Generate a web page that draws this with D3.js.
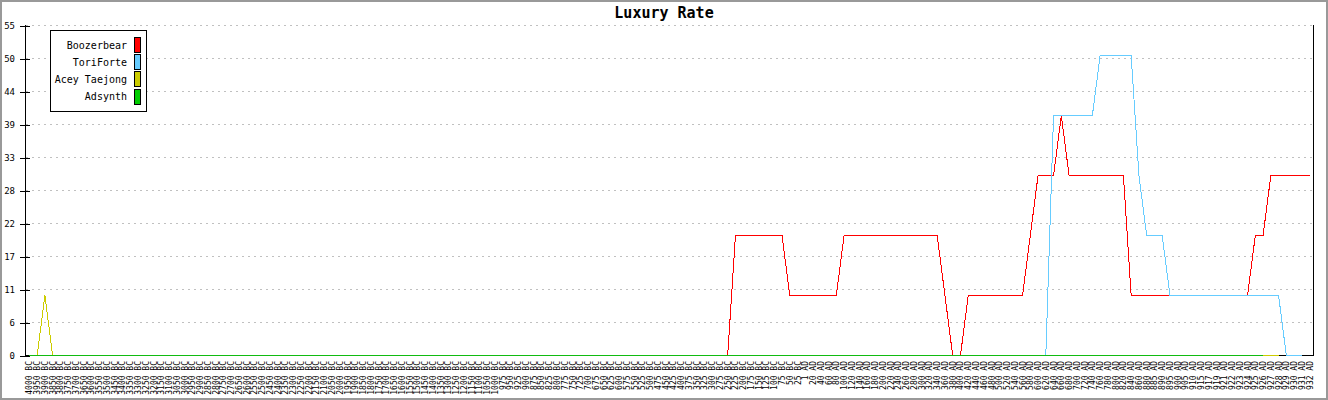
<!DOCTYPE html>
<html>
<head>
<meta charset="utf-8">
<script src="https://cdn.jsdelivr.net/npm/d3@7"></script>
<style>
html,body{margin:0;padding:0;background:#fff;}
svg{display:block;}
text{font-family:"DejaVu Sans Mono",monospace;}
</style>
</head>
<body>
<svg id="chart" width="1328" height="400"></svg>
<script>
const title = "Luxury Rate";
const categories = [
"4000 BC","3950 BC","3900 BC","3850 BC","3800 BC","3750 BC","3700 BC","3650 BC","3600 BC","3550 BC",
"3500 BC","3450 BC","3400 BC","3350 BC","3300 BC","3250 BC","3200 BC","3150 BC","3100 BC","3050 BC",
"3000 BC","2950 BC","2900 BC","2850 BC","2800 BC","2750 BC","2700 BC","2650 BC","2600 BC","2550 BC",
"2500 BC","2450 BC","2400 BC","2350 BC","2300 BC","2250 BC","2200 BC","2150 BC","2100 BC","2050 BC",
"2000 BC","1950 BC","1900 BC","1850 BC","1800 BC","1750 BC","1700 BC","1650 BC","1600 BC","1550 BC",
"1500 BC","1450 BC","1400 BC","1350 BC","1300 BC","1250 BC","1200 BC","1150 BC","1100 BC","1050 BC",
"1000 BC","975 BC","950 BC","925 BC","900 BC","875 BC","850 BC","825 BC","800 BC","775 BC",
"750 BC","725 BC","700 BC","675 BC","650 BC","625 BC","600 BC","575 BC","550 BC","525 BC",
"500 BC","475 BC","450 BC","425 BC","400 BC","375 BC","350 BC","325 BC","300 BC","275 BC",
"250 BC","225 BC","200 BC","175 BC","150 BC","125 BC","100 BC","75 BC","50 BC","25 BC",
"1 AD","20 AD","40 AD","60 AD","80 AD","100 AD","120 AD","140 AD","160 AD","180 AD",
"200 AD","220 AD","240 AD","260 AD","280 AD","300 AD","320 AD","340 AD","360 AD","380 AD",
"400 AD","420 AD","440 AD","460 AD","480 AD","500 AD","520 AD","540 AD","560 AD","580 AD",
"600 AD","620 AD","640 AD","660 AD","680 AD","700 AD","720 AD","740 AD","760 AD","780 AD",
"800 AD","820 AD","840 AD","860 AD","880 AD","885 AD","890 AD","895 AD","900 AD","905 AD",
"910 AD","915 AD","917 AD","919 AD","921 AD","922 AD","923 AD","924 AD","925 AD","926 AD",
"927 AD","928 AD","929 AD","930 AD","931 AD","932 AD"
];
const seriesNames = ["Boozerbear","ToriForte","Acey Taejong","Adsynth"];
const seriesColors = ["#ff0000","#66ccff","#cccc00","#11bb11"];
const swatchColors = ["#ff0000","#66ccff","#cccc00","#00cc00"];
const boozerbear = [
0,0,0,0,0,0,0,0,0,0, 0,0,0,0,0,0,0,0,0,0, 0,0,0,0,0,0,0,0,0,0,
0,0,0,0,0,0,0,0,0,0, 0,0,0,0,0,0,0,0,0,0, 0,0,0,0,0,0,0,0,0,0,
0,0,0,0,0,0,0,0,0,0, 0,0,0,0,0,0,0,0,0,0, 0,0,0,0,0,0,0,0,0,0,
0,20,20,20,20,20,20,20,10,10,
10,10,10,10,10,20,20,20,20,20,
20,20,20,20,20,20,20,20,10,0,
0,10,10,10,10,10,10,10,10,20,
30,30,30,40,30,30,30,30,30,30,
30,30,10,10,10,10,10,10,10,10,
10,10,10,10,10,10,10,10,20,20,
30,30,30,30,30,30
];
const toriForte = [
0,0,0,0,0,0,0,0,0,0, 0,0,0,0,0,0,0,0,0,0, 0,0,0,0,0,0,0,0,0,0,
0,0,0,0,0,0,0,0,0,0, 0,0,0,0,0,0,0,0,0,0, 0,0,0,0,0,0,0,0,0,0,
0,0,0,0,0,0,0,0,0,0, 0,0,0,0,0,0,0,0,0,0, 0,0,0,0,0,0,0,0,0,0,
0,0,0,0,0,0,0,0,0,0, 0,0,0,0,0,0,0,0,0,0, 0,0,0,0,0,0,0,0,0,0,
0,0,0,0,0,0,0,0,0,0,
0,0,40,40,40,40,40,40,50,50,
50,50,50,30,20,20,20,10,10,10,
10,10,10,10,10,10,10,10,10,10,
10,10,0,0,0,null
];
const aceyTaejong = [
0,0,10,0,0,0,0,0,0,0, 0,0,0,0,0,0,0,0,0,0, 0,0,0,0,0,0,0,0,0,0,
0,0,0,0,0,0,0,0,0,0, 0,0,0,0,0,0,0,0,0,0, 0,0,0,0,0,0,0,0,0,0,
0,0,0,0,0,0,0,0,0,0, 0,0,0,0,0,0,0,0,0,0, 0,0,0,0,0,0,0,0,0,0,
0,0,0,0,0,0,0,0,0,0, 0,0,0,0,0,0,0,0,0,0, 0,0,0,0,0,0,0,0,0,0,
0,0,0,0,0,0,0,0,0,0, 0,0,0,0,0,0,0,0,0,0, 0,0,0,0,0,0,0,0,0,0,
0,0,0,0,0,0,0,0,0,0,
0,0,null,null,null,null
];
const adsynth = [
0,0,0,0,0,0,0,0,0,0, 0,0,0,0,0,0,0,0,0,0, 0,0,0,0,0,0,0,0,0,0,
0,0,0,0,0,0,0,0,0,0, 0,0,0,0,0,0,0,0,0,0, 0,0,0,0,0,0,0,0,0,0,
0,0,0,0,0,0,0,0,0,0, 0,0,0,0,0,0,0,0,0,0, 0,0,0,0,0,0,0,0,0,0,
0,0,0,0,0,0,0,0,0,0, 0,0,0,0,0,0,0,0,0,0, 0,0,0,0,0,0,0,0,0,0,
0,0,0,0,0,0,0,0,0,0, 0,0,0,0,0,0,0,0,0,0, 0,0,0,0,0,0,0,0,0,0,
0,0,0,0,0,0,0,0,0,0,
null,null,null,null,null,null
];
const yTickValues = [0,5.5,11,16.5,22,27.5,33,38.5,44,49.5,55];
const yTickLabels = ["0","6","11","17","22","28","33","39","44","50","55"];

(function(){
const svg = d3.select("#chart");
const W = 1328, H = 400;
const pL = 25, pR = 1313, pT = 25, pB = 355;

svg.append("rect").attr("x",0).attr("y",0).attr("width",W).attr("height",H).attr("fill","#fff");

const x = d3.scalePoint().domain(categories).range([pL, pR]).padding(0.5);
const y = d3.scaleLinear().domain([0,55]).range([pB, pT]);

// grid
svg.append("g").selectAll("line").data(yTickValues.filter(v => v > 0)).join("line")
  .attr("x1", pL + 1).attr("x2", pR)
  .attr("y1", d => Math.round(y(d)) + 0.5).attr("y2", d => Math.round(y(d)) + 0.5)
  .attr("stroke", "#c0c0c0").attr("stroke-width", 1).attr("stroke-dasharray", "2,4")
  .attr("shape-rendering", "crispEdges");

// x axis line (under series)
svg.append("line").attr("x1", pL).attr("x2", pR + 1).attr("y1", pB + 0.5).attr("y2", pB + 0.5)
  .attr("stroke","#000").attr("shape-rendering","crispEdges");

// series lines
const seriesData = [boozerbear, toriForte, aceyTaejong, adsynth];
const line = d3.line()
  .defined(d => d.v !== null)
  .x(d => x(d.c))
  .y(d => y(d.v));
const lines = svg.append("g").attr("transform","translate(0.5,0.5)");
seriesData.forEach((arr, i) => {
  const pts = categories.map((c, j) => ({c: c, v: arr[j] === undefined ? null : arr[j]}));
  lines.append("path").attr("d", line(pts)).attr("fill","none")
    .attr("stroke", seriesColors[i]).attr("stroke-width", 1)
    .attr("shape-rendering","crispEdges");
});

// axes verticals
svg.append("line").attr("x1", pL + 0.5).attr("x2", pL + 0.5).attr("y1", pT).attr("y2", pB + 1)
  .attr("stroke","#000").attr("shape-rendering","crispEdges");
svg.append("line").attr("x1", pR + 0.5).attr("x2", pR + 0.5).attr("y1", pT).attr("y2", pB + 1)
  .attr("stroke","#000").attr("shape-rendering","crispEdges");

const yAxis = d3.axisLeft(y).tickValues(yTickValues).tickSize(0)
  .tickFormat((d, i) => yTickLabels[i]);
const yg = svg.append("g").attr("transform", `translate(${pL},0)`).call(yAxis);
yg.select(".domain").remove();
yg.selectAll(".tick text").attr("x", -10).attr("dy","0.35em")
  .attr("font-family","DejaVu Sans Mono, monospace").attr("font-size", 9).attr("fill","#000");
yg.selectAll(".tick").append("line")
  .attr("x1", -5).attr("x2", 5).attr("y1", 0.5).attr("y2", 0.5)
  .attr("stroke","#000").attr("shape-rendering","crispEdges");

// x labels
const xAxis = d3.axisBottom(x).tickSize(0);
const xg = svg.append("g").attr("transform", `translate(0,${pB})`).call(xAxis);
xg.select(".domain").remove();
xg.selectAll(".tick text")
  .attr("font-family","DejaVu Sans Mono, monospace").attr("font-size", 8).attr("fill","#000")
  .attr("text-anchor","end").attr("dy", null).attr("y", null)
  .attr("transform","translate(3,6) rotate(-90)");

// title
svg.append("text").attr("x", W/2).attr("y", 18).attr("text-anchor","middle")
  .attr("font-weight","bold").attr("font-size", 15).attr("fill","#000").text(title);

// legend
const lg = svg.append("g");
lg.append("rect").attr("x", 50.5).attr("y", 30.5).attr("width", 96).attr("height", 81)
  .attr("fill","#fff").attr("stroke","#000");
seriesNames.forEach((n, i) => {
  const cy = 45 + i * 17.2;
  lg.append("text").attr("x", 127).attr("y", cy).attr("dy","0.35em").attr("text-anchor","end")
    .attr("font-size", 10).attr("fill","#000").text(n);
  lg.append("rect").attr("x", 134.5).attr("y", Math.round(cy - 8) + 0.5).attr("width", 6).attr("height", 15)
    .attr("fill", swatchColors[i]).attr("stroke","#000").attr("shape-rendering","crispEdges");
});

// outer border
svg.append("rect").attr("x",1).attr("y",1).attr("width",W-2).attr("height",H-2)
  .attr("fill","none").attr("stroke","#999").attr("stroke-width",2);
})();
</script>
</body>
</html>
